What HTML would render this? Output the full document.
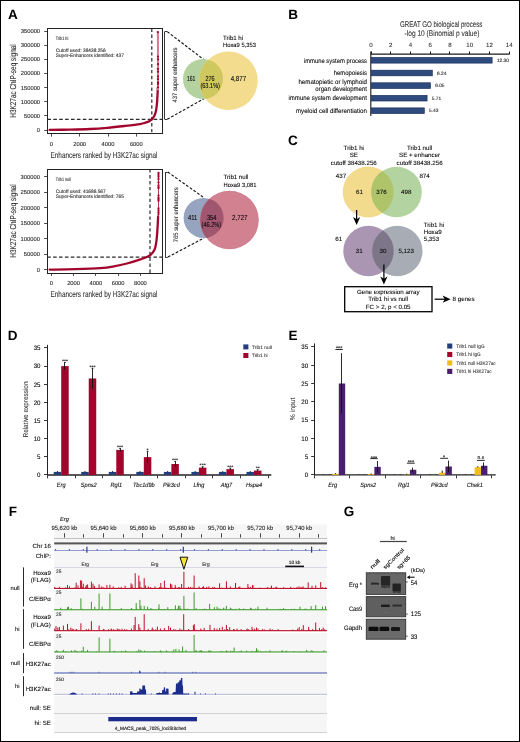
<!DOCTYPE html>
<html><head><meta charset="utf-8"><style>
html,body{margin:0;padding:0;background:#fff;}
body{width:520px;height:742px;overflow:hidden;}
svg{display:block;font-family:"Liberation Sans", sans-serif;opacity:0.999;text-rendering:geometricPrecision;}
</style></head><body>
<svg width="520" height="742" viewBox="0 0 520 742">
<rect x="0" y="0" width="520" height="742" fill="#fff"/>
<rect x="47.5" y="28.5" width="115.0" height="105.0" fill="none" stroke="#222" stroke-width="1.0"/>
<line x1="44.20" y1="130.50" x2="47.40" y2="130.50" stroke="#222" stroke-width="0.8"/>
<text x="40.10" y="132.00" font-size="5.8" text-anchor="end" fill="#1e1e1e" stroke="#1e1e1e" stroke-width="0.09">0</text>
<line x1="44.20" y1="115.50" x2="47.40" y2="115.50" stroke="#222" stroke-width="0.8"/>
<text x="40.10" y="117.86" font-size="5.8" text-anchor="end" fill="#1e1e1e" stroke="#1e1e1e" stroke-width="0.09">50000</text>
<line x1="44.20" y1="101.50" x2="47.40" y2="101.50" stroke="#222" stroke-width="0.8"/>
<text x="40.10" y="103.72" font-size="5.8" text-anchor="end" fill="#1e1e1e" stroke="#1e1e1e" stroke-width="0.09">100000</text>
<line x1="44.20" y1="87.50" x2="47.40" y2="87.50" stroke="#222" stroke-width="0.8"/>
<text x="40.10" y="89.58" font-size="5.8" text-anchor="end" fill="#1e1e1e" stroke="#1e1e1e" stroke-width="0.09">150000</text>
<line x1="44.20" y1="73.50" x2="47.40" y2="73.50" stroke="#222" stroke-width="0.8"/>
<text x="40.10" y="75.44" font-size="5.8" text-anchor="end" fill="#1e1e1e" stroke="#1e1e1e" stroke-width="0.09">200000</text>
<line x1="44.20" y1="59.50" x2="47.40" y2="59.50" stroke="#222" stroke-width="0.8"/>
<text x="40.10" y="61.30" font-size="5.8" text-anchor="end" fill="#1e1e1e" stroke="#1e1e1e" stroke-width="0.09">250000</text>
<line x1="44.20" y1="45.50" x2="47.40" y2="45.50" stroke="#222" stroke-width="0.8"/>
<text x="40.10" y="47.16" font-size="5.8" text-anchor="end" fill="#1e1e1e" stroke="#1e1e1e" stroke-width="0.09">300000</text>
<line x1="44.20" y1="31.50" x2="47.40" y2="31.50" stroke="#222" stroke-width="0.8"/>
<text x="40.10" y="33.02" font-size="5.8" text-anchor="end" fill="#1e1e1e" stroke="#1e1e1e" stroke-width="0.09">350000</text>
<line x1="51.50" y1="133.60" x2="51.50" y2="136.60" stroke="#222" stroke-width="0.8"/>
<text x="51.30" y="145.80" font-size="5.8" text-anchor="middle" fill="#1e1e1e" stroke="#1e1e1e" stroke-width="0.09">0</text>
<line x1="79.50" y1="133.60" x2="79.50" y2="136.60" stroke="#222" stroke-width="0.8"/>
<text x="79.65" y="145.80" font-size="5.8" text-anchor="middle" fill="#1e1e1e" stroke="#1e1e1e" stroke-width="0.09">2000</text>
<line x1="108.50" y1="133.60" x2="108.50" y2="136.60" stroke="#222" stroke-width="0.8"/>
<text x="108.00" y="145.80" font-size="5.8" text-anchor="middle" fill="#1e1e1e" stroke="#1e1e1e" stroke-width="0.09">4000</text>
<line x1="136.50" y1="133.60" x2="136.50" y2="136.60" stroke="#222" stroke-width="0.8"/>
<text x="136.35" y="145.80" font-size="5.8" text-anchor="middle" fill="#1e1e1e" stroke="#1e1e1e" stroke-width="0.09">6000</text>
<line x1="151.80" y1="28.60" x2="151.80" y2="133.60" stroke="#2a2a2a" stroke-width="1.2" stroke-dasharray="3.4 2.5"/>
<line x1="47.40" y1="119.30" x2="165.20" y2="119.30" stroke="#2a2a2a" stroke-width="1.2" stroke-dasharray="3.6 2.3"/>
<path d="M49.60 129.90 C53.00 129.85,63.27 129.75,70.00 129.60 C76.73 129.45,83.78 129.30,90.00 129.00 C96.22 128.70,101.53 128.30,107.30 127.80 C113.07 127.30,119.15 126.62,124.60 126.00 C130.05 125.38,136.53 124.65,140.00 124.10 C143.47 123.55,143.78 123.23,145.40 122.70 C147.02 122.17,148.53 121.57,149.70 120.90 C150.87 120.23,151.60 119.60,152.40 118.70 C153.20 117.80,153.92 116.75,154.50 115.50 C155.08 114.25,155.53 112.82,155.90 111.20 C156.27 109.58,156.48 107.60,156.70 105.80 C156.92 104.00,157.07 102.20,157.20 100.40 C157.33 98.60,157.40 97.07,157.50 95.00 C157.60 92.93,157.75 89.17,157.80 88.00" fill="none" stroke="#a3062c" stroke-width="2.3" stroke-linecap="round"/>
<path d="M157.90 32.10 L158.00 90.30" stroke="#d47a90" stroke-width="2.0"/>
<circle cx="157.90" cy="32.10" r="1.15" fill="#a3062c"/>
<circle cx="158.00" cy="56.60" r="1.15" fill="#a3062c"/>
<circle cx="158.00" cy="59.40" r="1.15" fill="#a3062c"/>
<circle cx="158.00" cy="64.20" r="1.15" fill="#a3062c"/>
<circle cx="158.00" cy="68.90" r="1.15" fill="#a3062c"/>
<circle cx="158.00" cy="71.70" r="1.15" fill="#a3062c"/>
<circle cx="158.00" cy="76.40" r="1.15" fill="#a3062c"/>
<circle cx="158.00" cy="79.20" r="1.15" fill="#a3062c"/>
<circle cx="158.00" cy="82.50" r="1.15" fill="#a3062c"/>
<circle cx="158.00" cy="84.00" r="1.15" fill="#a3062c"/>
<circle cx="158.00" cy="87.30" r="1.15" fill="#a3062c"/>
<text x="55.80" y="39.50" font-size="4.9" fill="#333" stroke="#333" stroke-width="0.12" textLength="12.5" lengthAdjust="spacingAndGlyphs">Trib1 hi</text>
<text x="55.80" y="51.50" font-size="4.9" fill="#333" stroke="#333" stroke-width="0.12" textLength="49.9" lengthAdjust="spacingAndGlyphs">Cutoff used: 38438.256</text>
<text x="55.80" y="56.60" font-size="4.9" fill="#333" stroke="#333" stroke-width="0.12" textLength="68" lengthAdjust="spacingAndGlyphs">Super-Enhancers identified: 437</text>
<rect x="47.5" y="169.5" width="115.0" height="104.0" fill="none" stroke="#222" stroke-width="1.0"/>
<line x1="44.00" y1="269.50" x2="47.20" y2="269.50" stroke="#222" stroke-width="0.8"/>
<text x="39.90" y="271.60" font-size="5.8" text-anchor="end" fill="#1e1e1e" stroke="#1e1e1e" stroke-width="0.09">0</text>
<line x1="44.00" y1="254.50" x2="47.20" y2="254.50" stroke="#222" stroke-width="0.8"/>
<text x="39.90" y="256.10" font-size="5.8" text-anchor="end" fill="#1e1e1e" stroke="#1e1e1e" stroke-width="0.09">50000</text>
<line x1="44.00" y1="238.50" x2="47.20" y2="238.50" stroke="#222" stroke-width="0.8"/>
<text x="39.90" y="240.60" font-size="5.8" text-anchor="end" fill="#1e1e1e" stroke="#1e1e1e" stroke-width="0.09">100000</text>
<line x1="44.00" y1="223.50" x2="47.20" y2="223.50" stroke="#222" stroke-width="0.8"/>
<text x="39.90" y="225.10" font-size="5.8" text-anchor="end" fill="#1e1e1e" stroke="#1e1e1e" stroke-width="0.09">150000</text>
<line x1="44.00" y1="207.50" x2="47.20" y2="207.50" stroke="#222" stroke-width="0.8"/>
<text x="39.90" y="209.60" font-size="5.8" text-anchor="end" fill="#1e1e1e" stroke="#1e1e1e" stroke-width="0.09">200000</text>
<line x1="44.00" y1="192.50" x2="47.20" y2="192.50" stroke="#222" stroke-width="0.8"/>
<text x="39.90" y="194.10" font-size="5.8" text-anchor="end" fill="#1e1e1e" stroke="#1e1e1e" stroke-width="0.09">250000</text>
<line x1="44.00" y1="176.50" x2="47.20" y2="176.50" stroke="#222" stroke-width="0.8"/>
<text x="39.90" y="178.60" font-size="5.8" text-anchor="end" fill="#1e1e1e" stroke="#1e1e1e" stroke-width="0.09">300000</text>
<line x1="51.50" y1="273.00" x2="51.50" y2="276.00" stroke="#222" stroke-width="0.8"/>
<text x="51.30" y="285.20" font-size="5.8" text-anchor="middle" fill="#1e1e1e" stroke="#1e1e1e" stroke-width="0.09">0</text>
<line x1="73.50" y1="273.00" x2="73.50" y2="276.00" stroke="#222" stroke-width="0.8"/>
<text x="73.58" y="285.20" font-size="5.8" text-anchor="middle" fill="#1e1e1e" stroke="#1e1e1e" stroke-width="0.09">2000</text>
<line x1="95.50" y1="273.00" x2="95.50" y2="276.00" stroke="#222" stroke-width="0.8"/>
<text x="95.86" y="285.20" font-size="5.8" text-anchor="middle" fill="#1e1e1e" stroke="#1e1e1e" stroke-width="0.09">4000</text>
<line x1="118.50" y1="273.00" x2="118.50" y2="276.00" stroke="#222" stroke-width="0.8"/>
<text x="118.14" y="285.20" font-size="5.8" text-anchor="middle" fill="#1e1e1e" stroke="#1e1e1e" stroke-width="0.09">6000</text>
<line x1="140.50" y1="273.00" x2="140.50" y2="276.00" stroke="#222" stroke-width="0.8"/>
<text x="140.42" y="285.20" font-size="5.8" text-anchor="middle" fill="#1e1e1e" stroke="#1e1e1e" stroke-width="0.09">8000</text>
<line x1="150.00" y1="169.20" x2="150.00" y2="273.00" stroke="#2a2a2a" stroke-width="1.2" stroke-dasharray="3.4 2.5"/>
<line x1="47.20" y1="257.10" x2="165.80" y2="257.10" stroke="#2a2a2a" stroke-width="1.2" stroke-dasharray="3.6 2.3"/>
<path d="M49.60 269.60 C53.83 269.53,66.60 269.43,75.00 269.20 C83.40 268.97,93.33 268.70,100.00 268.20 C106.67 267.70,110.52 266.98,115.00 266.20 C119.48 265.42,122.67 264.63,126.90 263.50 C131.13 262.37,136.58 260.75,140.40 259.40 C144.22 258.05,147.45 257.00,149.80 255.40 C152.15 253.80,153.38 252.30,154.50 249.80 C155.62 247.30,155.98 244.22,156.50 240.40 C157.02 236.58,157.33 230.88,157.60 226.90 C157.87 222.92,158.02 218.23,158.10 216.50" fill="none" stroke="#a3062c" stroke-width="2.3" stroke-linecap="round"/>
<path d="M158.50 173.00 L158.50 217.10" stroke="#b02040" stroke-width="0.9"/>
<circle cx="158.50" cy="173.00" r="1.15" fill="#a3062c"/>
<circle cx="158.50" cy="174.90" r="1.15" fill="#a3062c"/>
<circle cx="158.50" cy="176.80" r="1.15" fill="#a3062c"/>
<circle cx="158.50" cy="179.20" r="1.15" fill="#a3062c"/>
<circle cx="158.50" cy="182.50" r="1.15" fill="#a3062c"/>
<circle cx="158.50" cy="185.30" r="1.15" fill="#a3062c"/>
<circle cx="158.50" cy="187.20" r="1.15" fill="#a3062c"/>
<circle cx="158.50" cy="188.10" r="1.15" fill="#a3062c"/>
<circle cx="158.50" cy="195.70" r="1.15" fill="#a3062c"/>
<circle cx="158.50" cy="198.00" r="1.15" fill="#a3062c"/>
<circle cx="158.50" cy="199.40" r="1.15" fill="#a3062c"/>
<circle cx="158.50" cy="200.80" r="1.15" fill="#a3062c"/>
<circle cx="158.50" cy="208.40" r="1.15" fill="#a3062c"/>
<circle cx="158.50" cy="210.30" r="1.15" fill="#a3062c"/>
<circle cx="158.50" cy="212.20" r="1.15" fill="#a3062c"/>
<circle cx="158.50" cy="214.10" r="1.15" fill="#a3062c"/>
<text x="55.80" y="181.30" font-size="4.9" fill="#333" stroke="#333" stroke-width="0.12" textLength="15.0" lengthAdjust="spacingAndGlyphs">Trib1 null</text>
<text x="55.80" y="193.10" font-size="4.9" fill="#333" stroke="#333" stroke-width="0.12" textLength="49.9" lengthAdjust="spacingAndGlyphs">Cutoff used: 41686.567</text>
<text x="55.80" y="198.30" font-size="4.9" fill="#333" stroke="#333" stroke-width="0.12" textLength="68" lengthAdjust="spacingAndGlyphs">Super-Enhancers identified: 765</text>
<line x1="164.50" y1="31.60" x2="164.50" y2="119.30" stroke="#222" stroke-width="0.9"/>
<line x1="164.70" y1="31.50" x2="167.20" y2="31.50" stroke="#222" stroke-width="0.9"/>
<line x1="164.70" y1="119.50" x2="167.20" y2="119.50" stroke="#222" stroke-width="0.9"/>
<line x1="167.20" y1="31.60" x2="204.60" y2="60.20" stroke="#111" stroke-width="1.1" stroke-dasharray="2.8 1.7"/>
<line x1="167.20" y1="119.30" x2="204.60" y2="98.30" stroke="#111" stroke-width="1.1" stroke-dasharray="2.8 1.7"/>
<line x1="165.50" y1="172.00" x2="165.50" y2="257.10" stroke="#222" stroke-width="0.9"/>
<line x1="165.30" y1="172.50" x2="167.80" y2="172.50" stroke="#222" stroke-width="0.9"/>
<line x1="165.30" y1="257.50" x2="167.80" y2="257.50" stroke="#222" stroke-width="0.9"/>
<line x1="167.80" y1="172.00" x2="204.20" y2="197.90" stroke="#111" stroke-width="1.1" stroke-dasharray="2.8 1.7"/>
<line x1="167.80" y1="257.10" x2="204.20" y2="237.90" stroke="#111" stroke-width="1.1" stroke-dasharray="2.8 1.7"/>
<text x="15.90" y="81.00" font-size="8.6" text-anchor="middle" fill="#2a2a2a" stroke="#2a2a2a" stroke-width="0.09" textLength="73.5" lengthAdjust="spacingAndGlyphs" transform="rotate(-90 15.90 81.00)">H3K27ac ChIP-seq signal</text>
<text x="15.90" y="221.00" font-size="8.6" text-anchor="middle" fill="#2a2a2a" stroke="#2a2a2a" stroke-width="0.09" textLength="73.5" lengthAdjust="spacingAndGlyphs" transform="rotate(-90 15.90 221.00)">H3K27ac ChIP-seq signal</text>
<text x="104.00" y="157.50" font-size="8.5" text-anchor="middle" fill="#333" stroke="#333" stroke-width="0.09" textLength="107" lengthAdjust="spacingAndGlyphs">Enhancers ranked by H3K27ac signal</text>
<text x="104.00" y="297.30" font-size="8.5" text-anchor="middle" fill="#333" stroke="#333" stroke-width="0.09" textLength="107" lengthAdjust="spacingAndGlyphs">Enhancers ranked by H3K27ac signal</text>
<text x="177.20" y="75.00" font-size="6.4" text-anchor="middle" fill="#333" stroke="#333" stroke-width="0.09" textLength="55" lengthAdjust="spacingAndGlyphs" transform="rotate(-90 177.20 75.00)">437 super enhancers</text>
<text x="177.70" y="214.70" font-size="6.4" text-anchor="middle" fill="#333" stroke="#333" stroke-width="0.09" textLength="55" lengthAdjust="spacingAndGlyphs" transform="rotate(-90 177.70 214.70)">765 super enhancers</text>
<circle cx="203.00" cy="79.00" r="20.00" fill="#b4d29f"/>
<circle cx="228.50" cy="80.80" r="29.30" fill="#f3dc8e"/>
<clipPath id="cA1"><circle cx="203" cy="79" r="20"/></clipPath>
<circle cx="228.50" cy="80.80" r="29.30" fill="#cec85f" clip-path="url(#cA1)"/>
<text x="191.20" y="81.20" font-size="7.3" text-anchor="middle" stroke="#222" stroke-width="0.09" textLength="8.5" lengthAdjust="spacingAndGlyphs">161</text>
<text x="210.00" y="81.20" font-size="7.3" text-anchor="middle" stroke="#222" stroke-width="0.09" textLength="9.2" lengthAdjust="spacingAndGlyphs">276</text>
<text x="210.20" y="88.30" font-size="7.3" text-anchor="middle" stroke="#222" stroke-width="0.09" textLength="19.6" lengthAdjust="spacingAndGlyphs">(63.1%)</text>
<text x="238.40" y="81.20" font-size="7.3" text-anchor="middle" stroke="#222" stroke-width="0.09" textLength="15.5" lengthAdjust="spacingAndGlyphs">4,877</text>
<text x="223.00" y="39.50" font-size="6.1" stroke="#222" stroke-width="0.09">Trib1 hi</text>
<text x="223.00" y="46.60" font-size="6.1" stroke="#222" stroke-width="0.09" textLength="33.0" lengthAdjust="spacingAndGlyphs">Hoxa9 5,353</text>
<circle cx="203.60" cy="217.90" r="20.00" fill="#96a4c0"/>
<circle cx="229.50" cy="220.00" r="29.30" fill="#d28191"/>
<clipPath id="cA2"><circle cx="203.6" cy="217.9" r="20"/></clipPath>
<circle cx="229.50" cy="220.00" r="29.30" fill="#a0566f" clip-path="url(#cA2)"/>
<text x="192.60" y="219.80" font-size="7.3" text-anchor="middle" stroke="#222" stroke-width="0.09" textLength="9.3" lengthAdjust="spacingAndGlyphs">411</text>
<text x="211.70" y="219.80" font-size="7.3" text-anchor="middle" stroke="#222" stroke-width="0.09" textLength="9.6" lengthAdjust="spacingAndGlyphs">354</text>
<text x="211.40" y="227.40" font-size="7.3" text-anchor="middle" stroke="#222" stroke-width="0.09" textLength="19.7" lengthAdjust="spacingAndGlyphs">(46.2%)</text>
<text x="239.80" y="219.80" font-size="7.3" text-anchor="middle" stroke="#222" stroke-width="0.09" textLength="15.5" lengthAdjust="spacingAndGlyphs">2,727</text>
<text x="223.50" y="179.40" font-size="6.1" stroke="#222" stroke-width="0.09">Trib1 null</text>
<text x="223.50" y="186.50" font-size="6.1" stroke="#222" stroke-width="0.09" textLength="33.0" lengthAdjust="spacingAndGlyphs">Hoxa9 3,081</text>
<text x="7.90" y="18.70" font-size="13.5" fill="#000" font-weight="bold">A</text>
<text x="288.30" y="18.70" font-size="13.5" fill="#000" font-weight="bold">B</text>
<text x="441.20" y="26.60" font-size="8.2" text-anchor="middle" fill="#333" stroke="#333" stroke-width="0.09" textLength="82.5" lengthAdjust="spacingAndGlyphs">GREAT GO biological process</text>
<text x="442.00" y="35.80" font-size="8.2" text-anchor="middle" fill="#333" stroke="#333" stroke-width="0.09" textLength="74.8" lengthAdjust="spacingAndGlyphs">-log 10 (Binomial p value)</text>
<line x1="370.70" y1="54.20" x2="509.58" y2="54.20" stroke="#1a1a1a" stroke-width="1.3"/>
<line x1="371.50" y1="51.50" x2="371.50" y2="54.20" stroke="#1a1a1a" stroke-width="1.0"/>
<text x="371.00" y="46.70" font-size="6.1" text-anchor="middle" fill="#333" stroke="#333" stroke-width="0.09">0</text>
<line x1="390.50" y1="51.50" x2="390.50" y2="54.20" stroke="#1a1a1a" stroke-width="1.0"/>
<text x="390.74" y="46.70" font-size="6.1" text-anchor="middle" fill="#333" stroke="#333" stroke-width="0.09">2</text>
<line x1="410.50" y1="51.50" x2="410.50" y2="54.20" stroke="#1a1a1a" stroke-width="1.0"/>
<text x="410.48" y="46.70" font-size="6.1" text-anchor="middle" fill="#333" stroke="#333" stroke-width="0.09">4</text>
<line x1="430.50" y1="51.50" x2="430.50" y2="54.20" stroke="#1a1a1a" stroke-width="1.0"/>
<text x="430.22" y="46.70" font-size="6.1" text-anchor="middle" fill="#333" stroke="#333" stroke-width="0.09">6</text>
<line x1="449.50" y1="51.50" x2="449.50" y2="54.20" stroke="#1a1a1a" stroke-width="1.0"/>
<text x="449.96" y="46.70" font-size="6.1" text-anchor="middle" fill="#333" stroke="#333" stroke-width="0.09">8</text>
<line x1="469.50" y1="51.50" x2="469.50" y2="54.20" stroke="#1a1a1a" stroke-width="1.0"/>
<text x="469.70" y="46.70" font-size="6.1" text-anchor="middle" fill="#333" stroke="#333" stroke-width="0.09">10</text>
<line x1="489.50" y1="51.50" x2="489.50" y2="54.20" stroke="#1a1a1a" stroke-width="1.0"/>
<text x="489.44" y="46.70" font-size="6.1" text-anchor="middle" fill="#333" stroke="#333" stroke-width="0.09">12</text>
<line x1="509.50" y1="51.50" x2="509.50" y2="54.20" stroke="#1a1a1a" stroke-width="1.0"/>
<text x="509.18" y="46.70" font-size="6.1" text-anchor="middle" fill="#333" stroke="#333" stroke-width="0.09">14</text>
<line x1="370.80" y1="51.50" x2="370.80" y2="116.00" stroke="#2a2a2a" stroke-width="1.2"/>
<rect x="371.30" y="57.50" width="120.80" height="5.6" fill="#2f4b7d" stroke="#1b305f" stroke-width="0.7"/>
<text x="496.90" y="62.00" font-size="4.8" fill="#333" stroke="#333" stroke-width="0.12">12.30</text>
<rect x="371.30" y="70.20" width="60.99" height="5.6" fill="#2f4b7d" stroke="#1b305f" stroke-width="0.7"/>
<text x="437.09" y="74.70" font-size="4.8" fill="#333" stroke="#333" stroke-width="0.12">6.24</text>
<rect x="371.30" y="82.80" width="59.11" height="5.6" fill="#2f4b7d" stroke="#1b305f" stroke-width="0.7"/>
<text x="435.21" y="87.30" font-size="4.8" fill="#333" stroke="#333" stroke-width="0.12">6.05</text>
<rect x="371.30" y="95.40" width="55.76" height="5.6" fill="#2f4b7d" stroke="#1b305f" stroke-width="0.7"/>
<text x="431.86" y="99.90" font-size="4.8" fill="#333" stroke="#333" stroke-width="0.12">5.71</text>
<rect x="371.30" y="107.90" width="52.99" height="5.6" fill="#2f4b7d" stroke="#1b305f" stroke-width="0.7"/>
<text x="429.09" y="112.40" font-size="4.8" fill="#333" stroke="#333" stroke-width="0.12">5.43</text>
<text x="367.00" y="62.50" font-size="6.6" text-anchor="end" stroke="#222" stroke-width="0.09" textLength="63.1" lengthAdjust="spacingAndGlyphs">immune system process</text>
<text x="367.00" y="74.90" font-size="6.6" text-anchor="end" stroke="#222" stroke-width="0.09" textLength="33.2" lengthAdjust="spacingAndGlyphs">hemopoiesis</text>
<text x="367.00" y="83.70" font-size="6.6" text-anchor="end" stroke="#222" stroke-width="0.09" textLength="68.6" lengthAdjust="spacingAndGlyphs">hematopietic or lymphoid</text>
<text x="367.00" y="90.80" font-size="6.6" text-anchor="end" stroke="#222" stroke-width="0.09" textLength="51.7" lengthAdjust="spacingAndGlyphs">organ development</text>
<text x="367.00" y="100.30" font-size="6.6" text-anchor="end" stroke="#222" stroke-width="0.09" textLength="78.5" lengthAdjust="spacingAndGlyphs">immune system development</text>
<text x="367.00" y="112.60" font-size="6.6" text-anchor="end" stroke="#222" stroke-width="0.09" textLength="71.1" lengthAdjust="spacingAndGlyphs">myeloid cell differentiation</text>
<text x="288.00" y="144.80" font-size="13.5" fill="#000" font-weight="bold">C</text>
<circle cx="368.20" cy="192.00" r="25.50" fill="#f3db8e"/>
<circle cx="396.50" cy="192.00" r="25.30" fill="#b3d3a0"/>
<clipPath id="cC1"><circle cx="368.2" cy="192" r="25.5"/></clipPath>
<circle cx="396.50" cy="192.00" r="25.30" fill="#afc469" clip-path="url(#cC1)"/>
<circle cx="368.50" cy="251.00" r="25.20" fill="#aa95b2"/>
<circle cx="397.30" cy="251.00" r="25.20" fill="#a7acb5"/>
<clipPath id="cC2"><circle cx="368.5" cy="251" r="25.2"/></clipPath>
<circle cx="397.30" cy="251.00" r="25.20" fill="#7d7689" clip-path="url(#cC2)"/>
<text x="353.80" y="149.80" font-size="6.2" text-anchor="middle" stroke="#222" stroke-width="0.09">Trib1 hi</text>
<text x="353.80" y="157.10" font-size="6.2" text-anchor="middle" stroke="#222" stroke-width="0.09">SE</text>
<text x="353.80" y="164.50" font-size="6.2" text-anchor="middle" stroke="#222" stroke-width="0.09">cutoff 38438.256</text>
<text x="419.60" y="149.80" font-size="6.2" text-anchor="middle" stroke="#222" stroke-width="0.09">Trib1 null</text>
<text x="419.60" y="157.10" font-size="6.2" text-anchor="middle" stroke="#222" stroke-width="0.09">SE + enhancer</text>
<text x="419.60" y="164.50" font-size="6.2" text-anchor="middle" stroke="#222" stroke-width="0.09">cutoff 38438.256</text>
<text x="341.00" y="178.10" font-size="6.2" text-anchor="middle" stroke="#222" stroke-width="0.09">437</text>
<text x="424.60" y="178.10" font-size="6.2" text-anchor="middle" stroke="#222" stroke-width="0.09">874</text>
<text x="359.40" y="194.40" font-size="6.2" text-anchor="middle" stroke="#222" stroke-width="0.09">61</text>
<text x="381.50" y="194.40" font-size="6.2" text-anchor="middle" stroke="#222" stroke-width="0.09">376</text>
<text x="406.20" y="194.40" font-size="6.2" text-anchor="middle" stroke="#222" stroke-width="0.09">498</text>
<text x="338.80" y="241.40" font-size="6.2" text-anchor="middle" stroke="#222" stroke-width="0.09">61</text>
<text x="359.30" y="252.50" font-size="6.2" text-anchor="middle" stroke="#222" stroke-width="0.09">31</text>
<text x="383.00" y="252.50" font-size="6.2" text-anchor="middle" stroke="#222" stroke-width="0.09">30</text>
<text x="406.20" y="252.50" font-size="6.2" text-anchor="middle" stroke="#222" stroke-width="0.09">5,123</text>
<text x="423.70" y="226.60" font-size="6.2" stroke="#222" stroke-width="0.09">Trib1 hi</text>
<text x="423.70" y="234.10" font-size="6.2" stroke="#222" stroke-width="0.09">Hoxa9</text>
<text x="423.70" y="241.20" font-size="6.2" stroke="#222" stroke-width="0.09">5,353</text>
<line x1="356.60" y1="210.00" x2="356.60" y2="221.00" stroke="#000" stroke-width="1.25"/>
<path d="M353.00 217.00 L356.60 225.00 L360.20 217.00 L356.60 219.20 Z" fill="#000"/>
<line x1="383.90" y1="264.60" x2="383.90" y2="280.60" stroke="#000" stroke-width="1.25"/>
<path d="M380.30 276.60 L383.90 284.60 L387.50 276.60 L383.90 278.80 Z" fill="#000"/>
<rect x="344.7" y="286.7" width="87.3" height="25" fill="#fff" stroke="#000" stroke-width="1.3"/>
<text x="388.20" y="293.80" font-size="6.2" text-anchor="middle" stroke="#222" stroke-width="0.09">Gene expression array</text>
<text x="388.20" y="301.40" font-size="6.2" text-anchor="middle" stroke="#222" stroke-width="0.09">Trib1 hi vs null</text>
<text x="388.20" y="308.80" font-size="6.2" text-anchor="middle" stroke="#222" stroke-width="0.09">FC &gt; 2, p &lt; 0.05</text>
<line x1="434.60" y1="299.20" x2="446.00" y2="299.20" stroke="#000" stroke-width="1.25"/>
<path d="M442.6 295.6 L450.6 299.2 L442.6 302.8 L444.8 299.2 Z" fill="#000"/>
<text x="452.60" y="301.30" font-size="6.2" stroke="#222" stroke-width="0.09">8 genes</text>
<text x="7.70" y="339.60" font-size="13.5" fill="#000" font-weight="bold">D</text>
<line x1="47.50" y1="344.80" x2="47.50" y2="475.50" stroke="#222" stroke-width="1.0"/>
<line x1="47.20" y1="475.00" x2="271.30" y2="475.00" stroke="#222" stroke-width="1.3"/>
<line x1="44.00" y1="474.50" x2="47.20" y2="474.50" stroke="#222" stroke-width="0.9"/>
<text x="40.50" y="477.20" font-size="6.5" text-anchor="end" stroke="#222" stroke-width="0.09" textLength="3.43" lengthAdjust="spacingAndGlyphs">0</text>
<line x1="44.00" y1="456.50" x2="47.20" y2="456.50" stroke="#222" stroke-width="0.9"/>
<text x="40.50" y="459.07" font-size="6.5" text-anchor="end" stroke="#222" stroke-width="0.09" textLength="3.43" lengthAdjust="spacingAndGlyphs">5</text>
<line x1="44.00" y1="438.50" x2="47.20" y2="438.50" stroke="#222" stroke-width="0.9"/>
<text x="40.50" y="440.94" font-size="6.5" text-anchor="end" stroke="#222" stroke-width="0.09" textLength="6.87" lengthAdjust="spacingAndGlyphs">10</text>
<line x1="44.00" y1="420.50" x2="47.20" y2="420.50" stroke="#222" stroke-width="0.9"/>
<text x="40.50" y="422.81" font-size="6.5" text-anchor="end" stroke="#222" stroke-width="0.09" textLength="6.87" lengthAdjust="spacingAndGlyphs">15</text>
<line x1="44.00" y1="402.50" x2="47.20" y2="402.50" stroke="#222" stroke-width="0.9"/>
<text x="40.50" y="404.68" font-size="6.5" text-anchor="end" stroke="#222" stroke-width="0.09" textLength="6.87" lengthAdjust="spacingAndGlyphs">20</text>
<line x1="44.00" y1="384.50" x2="47.20" y2="384.50" stroke="#222" stroke-width="0.9"/>
<text x="40.50" y="386.55" font-size="6.5" text-anchor="end" stroke="#222" stroke-width="0.09" textLength="6.87" lengthAdjust="spacingAndGlyphs">25</text>
<line x1="44.00" y1="366.50" x2="47.20" y2="366.50" stroke="#222" stroke-width="0.9"/>
<text x="40.50" y="368.42" font-size="6.5" text-anchor="end" stroke="#222" stroke-width="0.09" textLength="6.87" lengthAdjust="spacingAndGlyphs">30</text>
<line x1="44.00" y1="347.50" x2="47.20" y2="347.50" stroke="#222" stroke-width="0.9"/>
<text x="40.50" y="350.29" font-size="6.5" text-anchor="end" stroke="#222" stroke-width="0.09" textLength="6.87" lengthAdjust="spacingAndGlyphs">35</text>
<line x1="47.50" y1="475.50" x2="47.50" y2="478.30" stroke="#222" stroke-width="0.9"/>
<rect x="53.70" y="471.90" width="7.50" height="3.00" fill="#223f80"/>
<line x1="57.45" y1="471.10" x2="57.45" y2="472.30" stroke="#111" stroke-width="0.9"/>
<rect x="61.20" y="366.12" width="7.50" height="108.78" fill="#a3042b"/>
<line x1="64.50" y1="362.49" x2="64.50" y2="369.75" stroke="#111" stroke-width="0.9"/>
<line x1="64.00" y1="362.49" x2="65.90" y2="362.49" stroke="#111" stroke-width="0.8"/>
<text x="64.95" y="362.89" font-size="5.2" text-anchor="middle" stroke="#222" stroke-width="0.12">***</text>
<text x="61.20" y="486.80" font-size="6.2" text-anchor="middle" stroke="#222" stroke-width="0.09" textLength="8.68" lengthAdjust="spacingAndGlyphs" font-style="italic">Erg</text>
<line x1="75.50" y1="475.50" x2="75.50" y2="478.30" stroke="#222" stroke-width="0.9"/>
<rect x="81.24" y="471.90" width="7.50" height="3.00" fill="#223f80"/>
<line x1="84.99" y1="471.10" x2="84.99" y2="472.30" stroke="#111" stroke-width="0.9"/>
<rect x="88.74" y="378.45" width="7.50" height="96.45" fill="#a3042b"/>
<line x1="92.50" y1="368.30" x2="92.50" y2="388.60" stroke="#111" stroke-width="0.9"/>
<line x1="91.54" y1="368.30" x2="93.44" y2="368.30" stroke="#111" stroke-width="0.8"/>
<text x="92.49" y="368.70" font-size="5.2" text-anchor="middle" stroke="#222" stroke-width="0.12">***</text>
<text x="88.74" y="486.80" font-size="6.2" text-anchor="middle" stroke="#222" stroke-width="0.09" textLength="15.82" lengthAdjust="spacingAndGlyphs" font-style="italic">Spns2</text>
<line x1="102.50" y1="475.50" x2="102.50" y2="478.30" stroke="#222" stroke-width="0.9"/>
<rect x="108.78" y="471.90" width="7.50" height="3.00" fill="#223f80"/>
<line x1="112.53" y1="471.10" x2="112.53" y2="472.30" stroke="#111" stroke-width="0.9"/>
<rect x="116.28" y="449.88" width="7.50" height="25.02" fill="#a3042b"/>
<line x1="120.50" y1="448.43" x2="120.50" y2="451.33" stroke="#111" stroke-width="0.9"/>
<line x1="119.08" y1="448.43" x2="120.98" y2="448.43" stroke="#111" stroke-width="0.8"/>
<text x="120.03" y="448.83" font-size="5.2" text-anchor="middle" stroke="#222" stroke-width="0.12">***</text>
<text x="116.28" y="486.80" font-size="6.2" text-anchor="middle" stroke="#222" stroke-width="0.09" textLength="11.48" lengthAdjust="spacingAndGlyphs" font-style="italic">Rgl1</text>
<line x1="130.50" y1="475.50" x2="130.50" y2="478.30" stroke="#222" stroke-width="0.9"/>
<rect x="136.32" y="471.90" width="7.50" height="3.00" fill="#223f80"/>
<line x1="140.07" y1="471.10" x2="140.07" y2="472.30" stroke="#111" stroke-width="0.9"/>
<rect x="143.82" y="457.13" width="7.50" height="17.77" fill="#a3042b"/>
<line x1="147.50" y1="451.33" x2="147.50" y2="462.93" stroke="#111" stroke-width="0.9"/>
<line x1="146.62" y1="451.33" x2="148.52" y2="451.33" stroke="#111" stroke-width="0.8"/>
<text x="147.57" y="451.73" font-size="5.2" text-anchor="middle" stroke="#222" stroke-width="0.12">*</text>
<text x="143.82" y="486.80" font-size="6.2" text-anchor="middle" stroke="#222" stroke-width="0.09" textLength="21.72" lengthAdjust="spacingAndGlyphs" font-style="italic">Tbc1d9b</text>
<line x1="157.50" y1="475.50" x2="157.50" y2="478.30" stroke="#222" stroke-width="0.9"/>
<rect x="163.86" y="471.90" width="7.50" height="3.00" fill="#223f80"/>
<line x1="167.61" y1="471.10" x2="167.61" y2="472.30" stroke="#111" stroke-width="0.9"/>
<rect x="171.36" y="464.02" width="7.50" height="10.88" fill="#a3042b"/>
<line x1="175.50" y1="461.48" x2="175.50" y2="466.56" stroke="#111" stroke-width="0.9"/>
<line x1="174.16" y1="461.48" x2="176.06" y2="461.48" stroke="#111" stroke-width="0.8"/>
<text x="175.11" y="461.88" font-size="5.2" text-anchor="middle" stroke="#222" stroke-width="0.12">***</text>
<text x="171.36" y="486.80" font-size="6.2" text-anchor="middle" stroke="#222" stroke-width="0.09" textLength="16.75" lengthAdjust="spacingAndGlyphs" font-style="italic">Pik3cd</text>
<line x1="185.50" y1="475.50" x2="185.50" y2="478.30" stroke="#222" stroke-width="0.9"/>
<rect x="191.40" y="471.90" width="7.50" height="3.00" fill="#223f80"/>
<line x1="195.15" y1="471.10" x2="195.15" y2="472.30" stroke="#111" stroke-width="0.9"/>
<rect x="198.90" y="467.65" width="7.50" height="7.25" fill="#a3042b"/>
<line x1="202.50" y1="466.74" x2="202.50" y2="468.55" stroke="#111" stroke-width="0.9"/>
<line x1="201.70" y1="466.74" x2="203.60" y2="466.74" stroke="#111" stroke-width="0.8"/>
<text x="202.65" y="467.14" font-size="5.2" text-anchor="middle" stroke="#222" stroke-width="0.12">***</text>
<text x="198.90" y="486.80" font-size="6.2" text-anchor="middle" stroke="#222" stroke-width="0.09" textLength="10.86" lengthAdjust="spacingAndGlyphs" font-style="italic">Lfng</text>
<line x1="212.50" y1="475.50" x2="212.50" y2="478.30" stroke="#222" stroke-width="0.9"/>
<rect x="218.94" y="471.90" width="7.50" height="3.00" fill="#223f80"/>
<line x1="222.69" y1="471.10" x2="222.69" y2="472.30" stroke="#111" stroke-width="0.9"/>
<rect x="226.44" y="469.10" width="7.50" height="5.80" fill="#a3042b"/>
<line x1="230.50" y1="468.19" x2="230.50" y2="470.00" stroke="#111" stroke-width="0.9"/>
<line x1="229.24" y1="468.19" x2="231.14" y2="468.19" stroke="#111" stroke-width="0.8"/>
<text x="230.19" y="468.59" font-size="5.2" text-anchor="middle" stroke="#222" stroke-width="0.12">***</text>
<text x="226.44" y="486.80" font-size="6.2" text-anchor="middle" stroke="#222" stroke-width="0.09" textLength="11.48" lengthAdjust="spacingAndGlyphs" font-style="italic">Atg7</text>
<line x1="240.50" y1="475.50" x2="240.50" y2="478.30" stroke="#222" stroke-width="0.9"/>
<rect x="246.48" y="471.90" width="7.50" height="3.00" fill="#223f80"/>
<line x1="250.23" y1="471.10" x2="250.23" y2="472.30" stroke="#111" stroke-width="0.9"/>
<rect x="253.98" y="470.55" width="7.50" height="4.35" fill="#a3042b"/>
<line x1="257.50" y1="469.64" x2="257.50" y2="471.46" stroke="#111" stroke-width="0.9"/>
<line x1="256.78" y1="469.64" x2="258.68" y2="469.64" stroke="#111" stroke-width="0.8"/>
<text x="257.73" y="470.04" font-size="5.2" text-anchor="middle" stroke="#222" stroke-width="0.12">**</text>
<text x="253.98" y="486.80" font-size="6.2" text-anchor="middle" stroke="#222" stroke-width="0.09" textLength="16.13" lengthAdjust="spacingAndGlyphs" font-style="italic">Hspa4</text>
<line x1="268.50" y1="475.50" x2="268.50" y2="478.30" stroke="#222" stroke-width="0.9"/>
<text x="28.30" y="409.50" font-size="7.0" text-anchor="middle" fill="#333" stroke="#333" stroke-width="0.09" textLength="56" lengthAdjust="spacingAndGlyphs" transform="rotate(-90 28.30 409.50)">Relative expression</text>
<rect x="243.30" y="344.40" width="5.10" height="5.00" fill="#223f80"/>
<rect x="243.30" y="353.00" width="5.10" height="5.00" fill="#a3042b"/>
<text x="252.00" y="348.70" font-size="4.6" fill="#444" stroke="#444" stroke-width="0.12" textLength="19.9" lengthAdjust="spacingAndGlyphs">Trib1 null</text>
<text x="252.00" y="357.30" font-size="4.6" fill="#444" stroke="#444" stroke-width="0.12" textLength="15.6" lengthAdjust="spacingAndGlyphs">Trib1 hi</text>
<text x="288.60" y="339.60" font-size="13.5" fill="#000" font-weight="bold">E</text>
<line x1="314.50" y1="343.40" x2="314.50" y2="475.30" stroke="#222" stroke-width="1.0"/>
<line x1="314.20" y1="474.90" x2="495.70" y2="474.90" stroke="#222" stroke-width="1.3"/>
<line x1="311.10" y1="474.50" x2="314.20" y2="474.50" stroke="#222" stroke-width="0.9"/>
<text x="308.20" y="477.20" font-size="6.5" text-anchor="end" stroke="#222" stroke-width="0.09" textLength="3.43" lengthAdjust="spacingAndGlyphs">0</text>
<line x1="311.10" y1="456.50" x2="314.20" y2="456.50" stroke="#222" stroke-width="0.9"/>
<text x="308.20" y="458.92" font-size="6.5" text-anchor="end" stroke="#222" stroke-width="0.09" textLength="3.43" lengthAdjust="spacingAndGlyphs">5</text>
<line x1="311.10" y1="438.50" x2="314.20" y2="438.50" stroke="#222" stroke-width="0.9"/>
<text x="308.20" y="440.64" font-size="6.5" text-anchor="end" stroke="#222" stroke-width="0.09" textLength="6.87" lengthAdjust="spacingAndGlyphs">10</text>
<line x1="311.10" y1="420.50" x2="314.20" y2="420.50" stroke="#222" stroke-width="0.9"/>
<text x="308.20" y="422.36" font-size="6.5" text-anchor="end" stroke="#222" stroke-width="0.09" textLength="6.87" lengthAdjust="spacingAndGlyphs">15</text>
<line x1="311.10" y1="401.50" x2="314.20" y2="401.50" stroke="#222" stroke-width="0.9"/>
<text x="308.20" y="404.08" font-size="6.5" text-anchor="end" stroke="#222" stroke-width="0.09" textLength="6.87" lengthAdjust="spacingAndGlyphs">20</text>
<line x1="311.10" y1="383.50" x2="314.20" y2="383.50" stroke="#222" stroke-width="0.9"/>
<text x="308.20" y="385.80" font-size="6.5" text-anchor="end" stroke="#222" stroke-width="0.09" textLength="6.87" lengthAdjust="spacingAndGlyphs">25</text>
<line x1="311.10" y1="365.50" x2="314.20" y2="365.50" stroke="#222" stroke-width="0.9"/>
<text x="308.20" y="367.52" font-size="6.5" text-anchor="end" stroke="#222" stroke-width="0.09" textLength="6.87" lengthAdjust="spacingAndGlyphs">30</text>
<line x1="311.10" y1="346.50" x2="314.20" y2="346.50" stroke="#222" stroke-width="0.9"/>
<text x="308.20" y="349.24" font-size="6.5" text-anchor="end" stroke="#222" stroke-width="0.09" textLength="6.87" lengthAdjust="spacingAndGlyphs">35</text>
<line x1="349.50" y1="475.30" x2="349.50" y2="478.30" stroke="#222" stroke-width="0.9"/>
<rect x="322.80" y="473.90" width="0.80" height="1.00" fill="#333"/>
<rect x="328.80" y="473.90" width="0.80" height="1.00" fill="#333"/>
<rect x="332.40" y="473.80" width="6.40" height="1.10" fill="#f2bf1c"/>
<rect x="338.80" y="383.50" width="6.40" height="91.40" fill="#4b1e6e"/>
<line x1="341.50" y1="353.16" x2="341.50" y2="413.84" stroke="#111" stroke-width="0.9"/>
<line x1="335.60" y1="473.00" x2="335.60" y2="474.10" stroke="#111" stroke-width="0.9"/>
<line x1="335.40" y1="349.50" x2="342.80" y2="349.50" stroke="#111" stroke-width="0.9"/>
<text x="339.10" y="350.40" font-size="5.4" text-anchor="middle" stroke="#222" stroke-width="0.12">***</text>
<text x="332.70" y="487.00" font-size="6.2" text-anchor="middle" stroke="#222" stroke-width="0.09" textLength="8.68" lengthAdjust="spacingAndGlyphs" font-style="italic">Erg</text>
<line x1="385.50" y1="475.30" x2="385.50" y2="478.30" stroke="#222" stroke-width="0.9"/>
<rect x="358.35" y="473.90" width="0.80" height="1.00" fill="#333"/>
<rect x="364.35" y="473.90" width="0.80" height="1.00" fill="#333"/>
<rect x="367.95" y="474.17" width="6.40" height="0.73" fill="#f2bf1c"/>
<rect x="374.35" y="466.86" width="6.40" height="8.04" fill="#4b1e6e"/>
<line x1="377.50" y1="461.01" x2="377.50" y2="472.71" stroke="#111" stroke-width="0.9"/>
<line x1="371.15" y1="473.37" x2="371.15" y2="474.47" stroke="#111" stroke-width="0.9"/>
<line x1="370.30" y1="458.60" x2="377.70" y2="458.60" stroke="#111" stroke-width="0.9"/>
<text x="374.00" y="459.50" font-size="5.4" text-anchor="middle" stroke="#222" stroke-width="0.12">***</text>
<text x="368.25" y="487.00" font-size="6.2" text-anchor="middle" stroke="#222" stroke-width="0.09" textLength="15.82" lengthAdjust="spacingAndGlyphs" font-style="italic">Spns2</text>
<line x1="420.50" y1="475.30" x2="420.50" y2="478.30" stroke="#222" stroke-width="0.9"/>
<rect x="393.90" y="473.90" width="0.80" height="1.00" fill="#333"/>
<rect x="399.90" y="473.90" width="0.80" height="1.00" fill="#333"/>
<rect x="403.50" y="474.53" width="6.40" height="0.37" fill="#f2bf1c"/>
<rect x="409.90" y="469.78" width="6.40" height="5.12" fill="#4b1e6e"/>
<line x1="412.50" y1="467.59" x2="412.50" y2="471.98" stroke="#111" stroke-width="0.9"/>
<line x1="406.70" y1="473.73" x2="406.70" y2="474.83" stroke="#111" stroke-width="0.9"/>
<line x1="406.90" y1="463.20" x2="414.80" y2="463.20" stroke="#111" stroke-width="0.9"/>
<text x="410.85" y="464.10" font-size="5.4" text-anchor="middle" stroke="#222" stroke-width="0.12">***</text>
<text x="403.80" y="487.00" font-size="6.2" text-anchor="middle" stroke="#222" stroke-width="0.09" textLength="11.48" lengthAdjust="spacingAndGlyphs" font-style="italic">Rgl1</text>
<line x1="456.50" y1="475.30" x2="456.50" y2="478.30" stroke="#222" stroke-width="0.9"/>
<rect x="429.45" y="473.90" width="0.80" height="1.00" fill="#333"/>
<rect x="435.45" y="473.90" width="0.80" height="1.00" fill="#333"/>
<rect x="439.05" y="472.71" width="6.40" height="2.19" fill="#f2bf1c"/>
<rect x="445.45" y="466.49" width="6.40" height="8.41" fill="#4b1e6e"/>
<line x1="448.50" y1="460.64" x2="448.50" y2="472.34" stroke="#111" stroke-width="0.9"/>
<line x1="442.25" y1="470.51" x2="442.25" y2="473.01" stroke="#111" stroke-width="0.9"/>
<line x1="440.20" y1="458.30" x2="448.10" y2="458.30" stroke="#111" stroke-width="0.9"/>
<text x="444.15" y="459.20" font-size="5.4" text-anchor="middle" stroke="#222" stroke-width="0.12">*</text>
<text x="439.35" y="487.00" font-size="6.2" text-anchor="middle" stroke="#222" stroke-width="0.09" textLength="16.75" lengthAdjust="spacingAndGlyphs" font-style="italic">Pik3cd</text>
<line x1="491.50" y1="475.30" x2="491.50" y2="478.30" stroke="#222" stroke-width="0.9"/>
<rect x="465.00" y="473.90" width="0.80" height="1.00" fill="#333"/>
<rect x="471.00" y="473.90" width="0.80" height="1.00" fill="#333"/>
<rect x="474.60" y="467.22" width="6.40" height="7.68" fill="#f2bf1c"/>
<rect x="481.00" y="465.76" width="6.40" height="9.14" fill="#4b1e6e"/>
<line x1="483.50" y1="462.47" x2="483.50" y2="469.05" stroke="#111" stroke-width="0.9"/>
<line x1="477.80" y1="466.13" x2="477.80" y2="467.52" stroke="#111" stroke-width="0.9"/>
<line x1="477.00" y1="460.40" x2="484.80" y2="460.40" stroke="#111" stroke-width="0.9"/>
<text x="480.90" y="459.10" font-size="5.0" text-anchor="middle" stroke="#222" stroke-width="0.12">n.s</text>
<text x="474.90" y="487.00" font-size="6.2" text-anchor="middle" stroke="#222" stroke-width="0.09" textLength="16.13" lengthAdjust="spacingAndGlyphs" font-style="italic">Chek1</text>
<line x1="314.50" y1="475.30" x2="314.50" y2="478.30" stroke="#222" stroke-width="0.9"/>
<text x="295.10" y="408.90" font-size="7.0" text-anchor="middle" fill="#333" stroke="#333" stroke-width="0.09" textLength="22.7" lengthAdjust="spacingAndGlyphs" transform="rotate(-90 295.10 408.90)">% input</text>
<rect x="447.20" y="343.50" width="5.10" height="5.10" fill="#223f80"/>
<text x="456.20" y="347.70" font-size="5.0" fill="#444" stroke="#444" stroke-width="0.12" textLength="28.4" lengthAdjust="spacingAndGlyphs">Trib1 null IgG</text>
<rect x="447.20" y="351.95" width="5.10" height="5.10" fill="#a3042b"/>
<text x="456.20" y="356.15" font-size="5.0" fill="#444" stroke="#444" stroke-width="0.12" textLength="24.6" lengthAdjust="spacingAndGlyphs">Trib1 hi IgG</text>
<rect x="447.20" y="360.40" width="5.10" height="5.10" fill="#f2bd1a"/>
<text x="456.20" y="364.60" font-size="5.0" fill="#444" stroke="#444" stroke-width="0.12" textLength="39.5" lengthAdjust="spacingAndGlyphs">Trib1 null H3K27ac</text>
<rect x="447.20" y="368.85" width="5.10" height="5.10" fill="#4a1d6e"/>
<text x="456.20" y="373.05" font-size="5.0" fill="#444" stroke="#444" stroke-width="0.12" textLength="35.4" lengthAdjust="spacingAndGlyphs">Trib1 hi H3K27ac</text>
<text x="8.80" y="515.90" font-size="13.5" fill="#000" font-weight="bold">F</text>
<rect x="54.20" y="524.40" width="272.80" height="208.20" fill="#f6f6f6"/>
<text x="64.40" y="521.00" font-size="5.6" text-anchor="middle" stroke="#222" stroke-width="0.09" font-style="italic">Erg</text>
<line x1="54.20" y1="538.50" x2="327.00" y2="538.50" stroke="#bbb" stroke-width="0.9"/>
<line x1="64.50" y1="533.20" x2="64.50" y2="537.60" stroke="#333" stroke-width="0.9"/>
<text x="64.40" y="529.90" font-size="6.2" text-anchor="middle" fill="#1e1e1e" stroke="#1e1e1e" stroke-width="0.09" textLength="26.0" lengthAdjust="spacingAndGlyphs">95,620 kb</text>
<line x1="83.50" y1="534.20" x2="83.50" y2="537.60" stroke="#333" stroke-width="0.9"/>
<line x1="103.50" y1="533.20" x2="103.50" y2="537.60" stroke="#333" stroke-width="0.9"/>
<text x="103.56" y="529.90" font-size="6.2" text-anchor="middle" fill="#1e1e1e" stroke="#1e1e1e" stroke-width="0.09" textLength="26.0" lengthAdjust="spacingAndGlyphs">95,640 kb</text>
<line x1="123.50" y1="534.20" x2="123.50" y2="537.60" stroke="#333" stroke-width="0.9"/>
<line x1="142.50" y1="533.20" x2="142.50" y2="537.60" stroke="#333" stroke-width="0.9"/>
<text x="142.72" y="529.90" font-size="6.2" text-anchor="middle" fill="#1e1e1e" stroke="#1e1e1e" stroke-width="0.09" textLength="26.0" lengthAdjust="spacingAndGlyphs">95,660 kb</text>
<line x1="162.50" y1="534.20" x2="162.50" y2="537.60" stroke="#333" stroke-width="0.9"/>
<line x1="181.50" y1="533.20" x2="181.50" y2="537.60" stroke="#333" stroke-width="0.9"/>
<text x="181.88" y="529.90" font-size="6.2" text-anchor="middle" fill="#1e1e1e" stroke="#1e1e1e" stroke-width="0.09" textLength="26.0" lengthAdjust="spacingAndGlyphs">95,680 kb</text>
<line x1="201.50" y1="534.20" x2="201.50" y2="537.60" stroke="#333" stroke-width="0.9"/>
<line x1="221.50" y1="533.20" x2="221.50" y2="537.60" stroke="#333" stroke-width="0.9"/>
<text x="221.04" y="529.90" font-size="6.2" text-anchor="middle" fill="#1e1e1e" stroke="#1e1e1e" stroke-width="0.09" textLength="26.0" lengthAdjust="spacingAndGlyphs">95,700 kb</text>
<line x1="240.50" y1="534.20" x2="240.50" y2="537.60" stroke="#333" stroke-width="0.9"/>
<line x1="260.50" y1="533.20" x2="260.50" y2="537.60" stroke="#333" stroke-width="0.9"/>
<text x="260.20" y="529.90" font-size="6.2" text-anchor="middle" fill="#1e1e1e" stroke="#1e1e1e" stroke-width="0.09" textLength="26.0" lengthAdjust="spacingAndGlyphs">95,720 kb</text>
<line x1="279.50" y1="534.20" x2="279.50" y2="537.60" stroke="#333" stroke-width="0.9"/>
<line x1="299.50" y1="533.20" x2="299.50" y2="537.60" stroke="#333" stroke-width="0.9"/>
<text x="299.36" y="529.90" font-size="6.2" text-anchor="middle" fill="#1e1e1e" stroke="#1e1e1e" stroke-width="0.09" textLength="26.0" lengthAdjust="spacingAndGlyphs">95,740 kb</text>
<line x1="318.50" y1="534.20" x2="318.50" y2="537.60" stroke="#333" stroke-width="0.9"/>
<rect x="54.20" y="542.40" width="272.80" height="2.00" fill="#555"/>
<line x1="54.20" y1="550.50" x2="327.00" y2="550.50" stroke="#6a78c0" stroke-width="0.7"/>
<rect x="54.90" y="549.20" width="1.20" height="1.20" fill="#3a4aa0"/>
<rect x="68.80" y="549.20" width="1.20" height="1.20" fill="#3a4aa0"/>
<rect x="82.70" y="549.20" width="1.20" height="1.20" fill="#3a4aa0"/>
<rect x="96.60" y="549.20" width="1.20" height="1.20" fill="#3a4aa0"/>
<rect x="110.50" y="549.20" width="1.20" height="1.20" fill="#3a4aa0"/>
<rect x="124.40" y="549.20" width="1.20" height="1.20" fill="#3a4aa0"/>
<rect x="138.30" y="549.20" width="1.20" height="1.20" fill="#3a4aa0"/>
<rect x="152.20" y="549.20" width="1.20" height="1.20" fill="#3a4aa0"/>
<rect x="166.10" y="549.20" width="1.20" height="1.20" fill="#3a4aa0"/>
<rect x="180.00" y="549.20" width="1.20" height="1.20" fill="#3a4aa0"/>
<rect x="193.90" y="549.20" width="1.20" height="1.20" fill="#3a4aa0"/>
<rect x="207.80" y="549.20" width="1.20" height="1.20" fill="#3a4aa0"/>
<rect x="221.70" y="549.20" width="1.20" height="1.20" fill="#3a4aa0"/>
<rect x="235.60" y="549.20" width="1.20" height="1.20" fill="#3a4aa0"/>
<rect x="249.50" y="549.20" width="1.20" height="1.20" fill="#3a4aa0"/>
<rect x="263.40" y="549.20" width="1.20" height="1.20" fill="#3a4aa0"/>
<rect x="277.30" y="549.20" width="1.20" height="1.20" fill="#3a4aa0"/>
<rect x="291.20" y="549.20" width="1.20" height="1.20" fill="#3a4aa0"/>
<rect x="305.10" y="549.20" width="1.20" height="1.20" fill="#3a4aa0"/>
<rect x="319.00" y="549.20" width="1.20" height="1.20" fill="#3a4aa0"/>
<rect x="86.30" y="546.70" width="1.20" height="6.00" fill="#2a3a9a"/>
<rect x="182.70" y="546.70" width="1.20" height="6.00" fill="#2a3a9a"/>
<rect x="311.00" y="546.70" width="1.20" height="6.00" fill="#2a3a9a"/>
<text x="50.90" y="547.90" font-size="6.1" text-anchor="end" stroke="#222" stroke-width="0.09">Chr 16</text>
<text x="50.90" y="557.70" font-size="6.1" text-anchor="end" stroke="#222" stroke-width="0.09">ChIP:</text>
<text x="85.20" y="566.40" font-size="5.0" text-anchor="middle" fill="#333" stroke="#333" stroke-width="0.12" textLength="7.39" lengthAdjust="spacingAndGlyphs">Erg</text>
<text x="154.70" y="566.40" font-size="5.0" text-anchor="middle" fill="#333" stroke="#333" stroke-width="0.12" textLength="7.39" lengthAdjust="spacingAndGlyphs">Erg</text>
<text x="205.90" y="566.40" font-size="5.0" text-anchor="middle" fill="#333" stroke="#333" stroke-width="0.12" textLength="7.39" lengthAdjust="spacingAndGlyphs">Erg</text>
<line x1="54.20" y1="567.50" x2="327.00" y2="567.50" stroke="#ccd" stroke-width="0.7"/>
<path d="M180.0 557.2 L187.8 557.2 L183.9 569.2 Z" fill="#f5e33a" stroke="#111" stroke-width="1"/>
<rect x="285.20" y="565.60" width="18.80" height="1.60" fill="#111"/>
<text x="294.60" y="564.40" font-size="4.8" text-anchor="middle" stroke="#222" stroke-width="0.12">10 kb</text>
<line x1="54.20" y1="589.50" x2="327.00" y2="589.50" stroke="#ffffff" stroke-width="1.0"/>
<line x1="54.20" y1="610.50" x2="327.00" y2="610.50" stroke="#ffffff" stroke-width="1.0"/>
<line x1="54.20" y1="632.50" x2="327.00" y2="632.50" stroke="#ffffff" stroke-width="1.0"/>
<line x1="54.20" y1="653.50" x2="327.00" y2="653.50" stroke="#ffffff" stroke-width="1.0"/>
<line x1="54.20" y1="674.50" x2="327.00" y2="674.50" stroke="#ffffff" stroke-width="1.0"/>
<line x1="54.20" y1="695.50" x2="327.00" y2="695.50" stroke="#ffffff" stroke-width="1.0"/>
<path d="M54.7 588.40v-1.5M61.7 588.40v-0.4M65.7 588.40v-1.0M70.7 588.40v-0.4M74.7 588.40v-0.9M75.7 588.40v-0.7M80.7 588.40v-1.0M82.7 588.40v-1.5M85.7 588.40v-1.7M87.7 588.40v-0.8M100.7 588.40v-0.7M103.7 588.40v-1.1M113.7 588.40v-0.5M118.7 588.40v-1.1M131.7 588.40v-1.4M139.7 588.40v-1.5M141.7 588.40v-1.1M149.7 588.40v-0.7M150.7 588.40v-1.2M158.7 588.40v-0.4M159.7 588.40v-1.4M161.7 588.40v-1.2M163.7 588.40v-0.6M165.7 588.40v-0.8M170.7 588.40v-0.9M172.7 588.40v-0.5M175.7 588.40v-1.2M177.7 588.40v-0.4M178.7 588.40v-1.3M179.7 588.40v-1.3M192.7 588.40v-0.8M202.7 588.40v-1.5M203.7 588.40v-1.5M206.7 588.40v-1.5M212.7 588.40v-1.3M214.7 588.40v-0.5M221.7 588.40v-0.7M226.7 588.40v-1.3M236.7 588.40v-0.6M238.7 588.40v-1.4M248.7 588.40v-1.1M249.7 588.40v-0.5M250.7 588.40v-1.5M259.7 588.40v-0.7M267.7 588.40v-1.3M268.7 588.40v-0.5M270.7 588.40v-0.7M273.7 588.40v-0.6M276.7 588.40v-1.6M283.7 588.40v-1.2M284.7 588.40v-0.4M290.7 588.40v-1.6M293.7 588.40v-0.7M303.7 588.40v-0.8M321.7 588.40v-0.7M322.7 588.40v-1.1M323.7 588.40v-0.5M59.4 588.40v-1.6M67.5 588.40v-3.4M69.5 588.40v-2.0M76.2 588.40v-5.7M78.0 588.40v-3.0M80.6 588.40v-8.1M81.6 588.40v-7.7M83.3 588.40v-4.7M86.3 588.40v-3.4M87.6 588.40v-4.0M91.4 588.40v-6.7M93.0 588.40v-4.7M94.4 588.40v-2.5M99.1 588.40v-4.0M101.8 588.40v-2.0M106.9 588.40v-3.4M109.9 588.40v-3.6M113.2 588.40v-2.0M121.3 588.40v-1.5M125.1 588.40v-2.7M131.0 588.40v-5.1M132.1 588.40v-4.0M135.2 588.40v-15.2M138.8 588.40v-12.9M139.9 588.40v-7.0M144.2 588.40v-10.2M145.6 588.40v-3.0M148.3 588.40v-2.0M155.0 588.40v-2.0M160.8 588.40v-5.4M164.4 588.40v-7.8M170.5 588.40v-4.8M171.8 588.40v-4.0M175.2 588.40v-3.5M181.6 588.40v-4.4M183.9 588.40v-16.6M188.6 588.40v-1.5M190.7 588.40v-1.5M194.1 588.40v-12.9M199.1 588.40v-2.0M203.5 588.40v-2.0M208.9 588.40v-2.0M214.3 588.40v-1.5M219.6 588.40v-5.1M226.4 588.40v-7.1M230.4 588.40v-2.0M235.5 588.40v-5.4M239.8 588.40v-2.0M247.9 588.40v-4.4M252.9 588.40v-3.5M252.7 588.40v-3.0M271.5 588.40v-2.7M276.0 588.40v-1.5M297.0 588.40v-1.5M299.0 588.40v-2.0M301.0 588.40v-1.5M303.0 588.40v-2.0M308.2 588.40v-6.0M312.0 588.40v-2.5M315.7 588.40v-3.0M320.7 588.40v-6.3M325.5 588.40v-1.0" stroke="#c0102a" stroke-width="1.0" fill="none"/>
<rect x="54.2" y="587.90" width="272.8" height="1.1" fill="#c0102a"/>
<path d="M56.7 609.70v-0.5M73.7 609.70v-0.4M81.7 609.70v-0.7M82.7 609.70v-0.9M131.7 609.70v-1.2M136.7 609.70v-1.1M140.7 609.70v-0.9M147.7 609.70v-0.8M150.7 609.70v-1.4M151.7 609.70v-1.1M152.7 609.70v-0.7M158.7 609.70v-1.4M160.7 609.70v-0.7M163.7 609.70v-0.7M164.7 609.70v-0.8M175.7 609.70v-0.8M177.7 609.70v-1.0M180.7 609.70v-1.4M184.7 609.70v-1.0M185.7 609.70v-0.5M186.7 609.70v-0.6M187.7 609.70v-1.0M202.7 609.70v-0.4M204.7 609.70v-1.1M206.7 609.70v-0.6M220.7 609.70v-0.8M223.7 609.70v-1.2M231.7 609.70v-1.1M232.7 609.70v-0.7M235.7 609.70v-0.9M240.7 609.70v-0.7M243.7 609.70v-1.2M250.7 609.70v-0.5M251.7 609.70v-1.3M255.7 609.70v-1.1M278.7 609.70v-0.8M280.7 609.70v-0.8M281.7 609.70v-0.5M285.7 609.70v-0.7M291.7 609.70v-0.9M294.7 609.70v-0.9M304.7 609.70v-0.8M305.7 609.70v-1.0M60.7 609.70v-2.0M67.5 609.70v-2.5M68.5 609.70v-3.0M71.2 609.70v-1.5M80.9 609.70v-11.3M91.4 609.70v-7.9M94.8 609.70v-3.0M99.1 609.70v-16.2M102.2 609.70v-3.0M109.9 609.70v-16.2M121.3 609.70v-1.5M131.4 609.70v-1.5M136.2 609.70v-6.7M139.9 609.70v-9.8M140.9 609.70v-4.0M144.2 609.70v-3.8M147.6 609.70v-3.0M159.0 609.70v-5.4M167.8 609.70v-2.5M175.4 609.70v-4.4M178.5 609.70v-4.0M179.9 609.70v-4.0M183.9 609.70v-13.9M194.1 609.70v-17.2M196.1 609.70v-1.5M209.6 609.70v-5.8M214.3 609.70v-2.5M217.0 609.70v-3.0M219.0 609.70v-1.5M223.7 609.70v-2.0M226.4 609.70v-3.8M230.4 609.70v-2.0M239.2 609.70v-1.5M250.6 609.70v-2.0M258.0 609.70v-3.0M267.0 609.70v-2.0M283.5 609.70v-1.5M300.0 609.70v-3.0M311.2 609.70v-3.5M315.7 609.70v-4.5M322.5 609.70v-3.0M325.5 609.70v-3.5" stroke="#3d9a2c" stroke-width="1.0" fill="none"/>
<rect x="54.2" y="609.20" width="272.8" height="1.1" fill="#3d9a2c"/>
<path d="M59.7 630.60v-0.4M68.7 630.60v-1.2M73.7 630.60v-1.4M76.7 630.60v-1.5M87.7 630.60v-0.6M88.7 630.60v-1.7M103.7 630.60v-1.5M108.7 630.60v-1.5M111.7 630.60v-1.5M113.7 630.60v-1.4M115.7 630.60v-0.8M118.7 630.60v-1.2M119.7 630.60v-1.3M126.7 630.60v-1.2M127.7 630.60v-0.7M130.7 630.60v-0.5M151.7 630.60v-0.9M153.7 630.60v-1.2M155.7 630.60v-1.2M161.7 630.60v-0.5M175.7 630.60v-1.1M181.7 630.60v-1.0M183.7 630.60v-0.8M188.7 630.60v-0.8M193.7 630.60v-1.1M194.7 630.60v-1.4M196.7 630.60v-0.8M201.7 630.60v-0.8M209.7 630.60v-0.4M224.7 630.60v-1.2M227.7 630.60v-1.6M233.7 630.60v-1.4M234.7 630.60v-0.8M246.7 630.60v-1.1M248.7 630.60v-1.4M252.7 630.60v-1.2M254.7 630.60v-0.8M260.7 630.60v-0.5M261.7 630.60v-0.6M262.7 630.60v-1.7M264.7 630.60v-1.1M271.7 630.60v-0.8M272.7 630.60v-1.1M275.7 630.60v-0.6M292.7 630.60v-1.0M301.7 630.60v-1.5M308.7 630.60v-1.2M309.7 630.60v-0.6M311.7 630.60v-0.5M312.7 630.60v-1.5M313.7 630.60v-0.4M315.7 630.60v-1.5M321.7 630.60v-1.4M324.7 630.60v-1.4M54.7 630.60v-2.0M56.0 630.60v-4.6M57.8 630.60v-3.0M59.4 630.60v-3.6M63.4 630.60v-5.0M67.5 630.60v-6.7M70.8 630.60v-3.0M72.2 630.60v-2.0M76.2 630.60v-1.5M80.9 630.60v-7.3M86.3 630.60v-1.5M91.4 630.60v-9.4M99.1 630.60v-5.0M103.8 630.60v-1.5M111.2 630.60v-2.0M117.3 630.60v-2.0M122.0 630.60v-2.0M124.7 630.60v-1.5M131.4 630.60v-2.0M134.1 630.60v-5.6M135.2 630.60v-13.7M138.8 630.60v-6.5M139.9 630.60v-3.0M144.2 630.60v-16.4M148.3 630.60v-1.5M152.3 630.60v-3.0M157.4 630.60v-4.0M160.4 630.60v-2.0M164.4 630.60v-2.5M168.7 630.60v-4.7M170.5 630.60v-3.0M173.8 630.60v-1.5M179.9 630.60v-2.0M183.7 630.60v-16.4M188.6 630.60v-1.5M193.4 630.60v-5.4M194.3 630.60v-6.5M200.8 630.60v-2.0M204.2 630.60v-2.7M210.0 630.60v-5.7M214.3 630.60v-2.5M217.0 630.60v-2.0M219.6 630.60v-2.5M222.3 630.60v-3.8M226.4 630.60v-5.7M229.7 630.60v-3.4M233.8 630.60v-1.5M237.1 630.60v-2.0M241.2 630.60v-1.5M247.2 630.60v-2.0M252.0 630.60v-3.8M254.6 630.60v-2.0M256.5 630.60v-3.0M258.0 630.60v-2.0M270.0 630.60v-2.0M278.2 630.60v-1.5M297.7 630.60v-2.0M299.2 630.60v-3.5M303.3 630.60v-5.5M308.7 630.60v-3.7M315.7 630.60v-8.0M319.5 630.60v-2.5M323.2 630.60v-3.0" stroke="#c0102a" stroke-width="1.0" fill="none"/>
<rect x="54.2" y="630.10" width="272.8" height="1.1" fill="#c0102a"/>
<path d="M55.7 651.90v-0.8M57.7 651.90v-0.8M65.7 651.90v-0.6M76.7 651.90v-1.0M81.7 651.90v-1.3M96.7 651.90v-0.4M113.7 651.90v-0.5M121.7 651.90v-1.1M126.7 651.90v-0.7M136.7 651.90v-0.8M139.7 651.90v-0.4M144.7 651.90v-1.4M147.7 651.90v-0.5M150.7 651.90v-0.4M154.7 651.90v-0.9M161.7 651.90v-0.8M166.7 651.90v-0.7M171.7 651.90v-0.5M181.7 651.90v-0.6M196.7 651.90v-1.4M199.7 651.90v-1.3M200.7 651.90v-1.4M202.7 651.90v-0.6M208.7 651.90v-1.3M209.7 651.90v-1.3M210.7 651.90v-1.2M222.7 651.90v-0.4M227.7 651.90v-0.8M230.7 651.90v-1.2M232.7 651.90v-0.9M239.7 651.90v-0.5M246.7 651.90v-1.3M255.7 651.90v-0.9M260.7 651.90v-0.7M265.7 651.90v-0.6M282.7 651.90v-1.2M285.7 651.90v-0.5M286.7 651.90v-1.2M293.7 651.90v-0.8M299.7 651.90v-0.4M312.7 651.90v-1.1M56.7 651.90v-1.5M63.4 651.90v-2.0M71.5 651.90v-1.5M74.9 651.90v-2.0M83.3 651.90v-5.1M87.6 651.90v-2.0M99.1 651.90v-14.5M109.9 651.90v-13.2M114.6 651.90v-1.0M125.4 651.90v-1.5M138.8 651.90v-2.5M140.9 651.90v-2.0M160.4 651.90v-1.5M166.4 651.90v-1.5M173.8 651.90v-2.5M175.9 651.90v-3.0M179.0 651.90v-2.5M182.6 651.90v-5.4M186.0 651.90v-2.0M194.1 651.90v-17.0M195.7 651.90v-1.5M201.5 651.90v-1.5M221.0 651.90v-1.0M226.4 651.90v-1.5M234.2 651.90v-4.4M241.2 651.90v-1.5M252.0 651.90v-1.0M256.5 651.90v-3.7M258.0 651.90v-2.0M270.0 651.90v-1.5M282.0 651.90v-1.5M306.7 651.90v-2.0M311.2 651.90v-1.5M324.0 651.90v-1.5" stroke="#3d9a2c" stroke-width="1.0" fill="none"/>
<rect x="54.2" y="651.40" width="272.8" height="1.1" fill="#3d9a2c"/>
<text x="56.00" y="572.90" font-size="5.0" fill="#333" stroke="#333" stroke-width="0.12" textLength="5.28" lengthAdjust="spacingAndGlyphs">25</text>
<text x="56.00" y="594.30" font-size="5.0" fill="#333" stroke="#333" stroke-width="0.12" textLength="5.28" lengthAdjust="spacingAndGlyphs">25</text>
<text x="56.00" y="616.30" font-size="5.0" fill="#333" stroke="#333" stroke-width="0.12" textLength="5.28" lengthAdjust="spacingAndGlyphs">25</text>
<text x="56.00" y="637.50" font-size="5.0" fill="#333" stroke="#333" stroke-width="0.12" textLength="5.28" lengthAdjust="spacingAndGlyphs">25</text>
<text x="56.00" y="659.40" font-size="4.8" fill="#333" stroke="#333" stroke-width="0.12">250</text>
<text x="56.00" y="680.80" font-size="4.8" fill="#333" stroke="#333" stroke-width="0.12">250</text>
<rect x="54.2" y="672.5" width="272.8" height="1.0" fill="#4050b0"/>
<path d="M139 672.9 L139.3 670.8 L140.3 670.8 L140.6 672.9 Z" fill="#1a2d8c"/>
<rect x="69.50" y="671.80" width="0.80" height="0.90" fill="#2a3a9a"/>
<rect x="71.50" y="671.80" width="0.80" height="0.90" fill="#2a3a9a"/>
<rect x="73.50" y="671.80" width="0.80" height="0.90" fill="#2a3a9a"/>
<rect x="98.60" y="671.80" width="0.80" height="0.90" fill="#2a3a9a"/>
<rect x="131.00" y="671.80" width="0.80" height="0.90" fill="#2a3a9a"/>
<rect x="158.50" y="671.80" width="0.80" height="0.90" fill="#2a3a9a"/>
<rect x="164.60" y="671.80" width="0.80" height="0.90" fill="#2a3a9a"/>
<rect x="192.30" y="671.80" width="0.80" height="0.90" fill="#2a3a9a"/>
<rect x="195.40" y="671.80" width="0.80" height="0.90" fill="#2a3a9a"/>
<rect x="54.2" y="693.9" width="272.8" height="0.6" fill="#8890c8"/>
<path d="M69 694.4L69 694.4L70.5 693.6L72 692.8L73 692.4L74.5 692.8L76 693.6L77.2 694.4L77.2 694.4Z" fill="#1a2d8c"/>
<path d="M130 694.4L130 694.4L130.2 691.5L131.5 691.5L131.7 693.1L137 693.1L137.2 691.4L139.2 691.4L139.4 688.4L140.4 688.4L140.6 689.5L142.2 689.5L142.4 685.6L145 685.6L145.2 689.4L146 689.4L146.2 694.4L146.2 694.4Z" fill="#1a2d8c"/>
<path d="M156.2 694.4L156.2 694.4L156.4 692.9L158.8 692.9L159 692.4L160 692.4L160.2 693.0L162 693.0L162.2 689.9L163.5 689.9L164 687.1999999999999L165 687.1999999999999L165.4 691.4L166 691.4L166.2 688.4L167.7 688.4L167.9 688.6999999999999L168.5 688.6999999999999L168.7 694.4L168.7 694.4Z" fill="#1a2d8c"/>
<path d="M172.3 694.4L172.3 694.4L172.5 692.9L174 691.9L175.6 691.9L176 683.4L177.7 683.4L177.9 682.1999999999999L179.2 682.1999999999999L179.4 680.1999999999999L180.8 680.1999999999999L181 677.9L182.3 677.9L182.5 685.6L183 685.6L183.2 693.4L187.7 693.4L187.9 694.4L187.9 694.4Z" fill="#1a2d8c"/>
<path d="M188.2 694.4L188.2 694.4L188.4 692.9L189 692.9L189.2 694.4L189.2 694.4Z" fill="#1a2d8c"/>
<path d="M194.4 694.4L194.4 694.4L194.6 691.8L195.4 691.8L195.6 694.4L195.6 694.4Z" fill="#1a2d8c"/>
<path d="M130.2 694.4L130.2 694.4L130.4 691.4L132.5 691.4L132.7 694.4L132.7 694.4Z" fill="#1a2d8c"/>
<rect x="81.70" y="693.40" width="0.80" height="1.00" fill="#1a2d8c"/>
<rect x="92.50" y="693.40" width="0.80" height="1.00" fill="#1a2d8c"/>
<rect x="95.00" y="693.40" width="0.80" height="1.00" fill="#1a2d8c"/>
<rect x="98.60" y="693.40" width="0.80" height="1.00" fill="#1a2d8c"/>
<rect x="107.80" y="693.40" width="0.80" height="1.00" fill="#1a2d8c"/>
<rect x="110.00" y="693.40" width="0.80" height="1.00" fill="#1a2d8c"/>
<rect x="113.00" y="693.40" width="0.80" height="1.00" fill="#1a2d8c"/>
<rect x="116.00" y="693.40" width="0.80" height="1.00" fill="#1a2d8c"/>
<rect x="119.00" y="693.40" width="0.80" height="1.00" fill="#1a2d8c"/>
<rect x="121.70" y="693.40" width="0.80" height="1.00" fill="#1a2d8c"/>
<rect x="150.80" y="693.40" width="0.80" height="1.00" fill="#1a2d8c"/>
<rect x="200.00" y="693.40" width="0.80" height="1.00" fill="#1a2d8c"/>
<rect x="205.00" y="693.40" width="0.80" height="1.00" fill="#1a2d8c"/>
<rect x="215.00" y="693.40" width="0.80" height="1.00" fill="#1a2d8c"/>
<line x1="54.20" y1="713.50" x2="327.00" y2="713.50" stroke="#c8c8c8" stroke-width="0.8"/>
<line x1="54.20" y1="732.50" x2="327.00" y2="732.50" stroke="#c8c8c8" stroke-width="0.8"/>
<rect x="108.30" y="717.00" width="88.70" height="4.30" fill="#1a2d8c"/>
<text x="150.50" y="730.20" font-size="4.8" text-anchor="middle" stroke="#222" stroke-width="0.12" textLength="71.5" lengthAdjust="spacingAndGlyphs">4_MACS_peak_7025_lociStitched</text>
<text x="50.80" y="575.40" font-size="6.1" text-anchor="end" stroke="#222" stroke-width="0.09">Hoxa9</text>
<text x="50.80" y="582.30" font-size="6.1" text-anchor="end" stroke="#222" stroke-width="0.09">(FLAG)</text>
<text x="50.80" y="601.00" font-size="6.1" text-anchor="end" stroke="#222" stroke-width="0.09">C/EBPα</text>
<text x="50.80" y="619.40" font-size="6.1" text-anchor="end" stroke="#222" stroke-width="0.09">Hoxa9</text>
<text x="50.80" y="626.70" font-size="6.1" text-anchor="end" stroke="#222" stroke-width="0.09">(FLAG)</text>
<text x="50.80" y="645.60" font-size="6.1" text-anchor="end" stroke="#222" stroke-width="0.09">C/EBPα</text>
<text x="50.80" y="665.60" font-size="6.1" text-anchor="end" stroke="#222" stroke-width="0.09">H3K27ac</text>
<text x="50.80" y="690.50" font-size="6.1" text-anchor="end" stroke="#222" stroke-width="0.09">H3K27ac</text>
<text x="50.80" y="709.90" font-size="6.1" text-anchor="end" stroke="#222" stroke-width="0.09">null: SE</text>
<text x="50.80" y="725.10" font-size="6.1" text-anchor="end" stroke="#222" stroke-width="0.09">hi: SE</text>
<text x="15.00" y="589.70" font-size="5.8" text-anchor="middle" stroke="#222" stroke-width="0.09">null</text>
<text x="17.30" y="630.80" font-size="5.8" text-anchor="middle" stroke="#222" stroke-width="0.09">hi</text>
<text x="15.30" y="665.00" font-size="5.8" text-anchor="middle" stroke="#222" stroke-width="0.09">null</text>
<text x="17.30" y="688.00" font-size="5.8" text-anchor="middle" stroke="#222" stroke-width="0.09">hi</text>
<line x1="23.50" y1="567.40" x2="23.50" y2="606.60" stroke="#111" stroke-width="0.9"/>
<line x1="23.50" y1="609.20" x2="23.50" y2="648.80" stroke="#111" stroke-width="0.9"/>
<line x1="23.50" y1="653.10" x2="23.50" y2="673.20" stroke="#111" stroke-width="0.9"/>
<line x1="23.50" y1="676.20" x2="23.50" y2="696.20" stroke="#111" stroke-width="0.9"/>
<text x="343.80" y="516.00" font-size="13.5" fill="#000" font-weight="bold">G</text>
<text x="392.60" y="539.60" font-size="5.6" text-anchor="middle" stroke="#222" stroke-width="0.09">hi</text>
<line x1="379.90" y1="541.50" x2="406.80" y2="541.50" stroke="#444" stroke-width="1.2"/>
<text x="372.30" y="569.30" font-size="5.4" stroke="#222" stroke-width="0.12" textLength="11.4" lengthAdjust="spacingAndGlyphs" transform="rotate(-45 372.30 569.30)">null</text>
<text x="385.30" y="569.50" font-size="5.4" stroke="#222" stroke-width="0.12" textLength="27" lengthAdjust="spacingAndGlyphs" transform="rotate(-45 385.30 569.50)">sgControl</text>
<text x="399.00" y="569.50" font-size="5.4" stroke="#222" stroke-width="0.12" textLength="16.5" lengthAdjust="spacingAndGlyphs" transform="rotate(-45 399.00 569.50)">sg+85</text>
<text x="410.80" y="572.00" font-size="5.6" stroke="#222" stroke-width="0.09" textLength="14.2" lengthAdjust="spacingAndGlyphs">(kDa)</text>
<defs><filter id="blur1" x="-20%" y="-20%" width="140%" height="140%"><feGaussianBlur stdDeviation="0.55"/></filter></defs>
<rect x="366.3" y="572.8" width="39.4" height="21.60" fill="#676767" stroke="#333" stroke-width="0.9"/>
<rect x="366.3" y="596.6" width="39.4" height="20.20" fill="#5f5f5f" stroke="#333" stroke-width="0.9"/>
<rect x="366.3" y="619.2" width="39.4" height="20.00" fill="#6a6a6a" stroke="#333" stroke-width="0.9"/>
<g filter="url(#blur1)">
<path d="M371 582.8 Q375 582.3 379 582.9 L379 584.8 Q375 584.3 371 584.8 Z" fill="#2a2a2a"/>
<rect x="381.0" y="576.0" width="9.2" height="9.5" rx="0.8" fill="#262626"/>
<path d="M381.3 585 L390 585 L389.6 588.2 L387 587.2 L385.5 588.6 L383 587.6 L381.6 588.4 Z" fill="#3a3a3a"/>
<rect x="392.5" y="583.4" width="8.4" height="8.0" rx="0.6" fill="#222"/>
<path d="M392.7 591 L400.8 591 L400.6 593.4 L396 592.6 L393 593.2 Z" fill="#3c3c3c"/>
<rect x="381.0" y="604.6" width="8.8" height="2.4" fill="#1e1e1e"/>
<rect x="382.5" y="612.0" width="6.5" height="1.2" fill="#666"/>
<rect x="392.5" y="604.6" width="9.2" height="1.9" fill="#2a2a2a"/>
<rect x="368.5" y="626.8" width="10.1" height="4.3" rx="1.2" fill="#111"/>
<rect x="379.5" y="626.8" width="9.7" height="4.3" rx="1.2" fill="#111"/>
<rect x="391.1" y="627.0" width="8.8" height="4.1" rx="1.2" fill="#131313"/>
</g>
<text x="362.00" y="587.10" font-size="6.4" text-anchor="end" stroke="#222" stroke-width="0.09" textLength="12.9" lengthAdjust="spacingAndGlyphs">Erg *</text>
<text x="362.20" y="610.60" font-size="6.4" text-anchor="end" stroke="#222" stroke-width="0.09" textLength="13.2" lengthAdjust="spacingAndGlyphs">Cas9</text>
<text x="362.00" y="629.60" font-size="6.4" text-anchor="end" stroke="#222" stroke-width="0.09" textLength="18.0" lengthAdjust="spacingAndGlyphs">Gapdh</text>
<line x1="405.90" y1="582.00" x2="407.80" y2="582.00" stroke="#222" stroke-width="0.7"/>
<text x="410.80" y="584.70" font-size="6.4" stroke="#222" stroke-width="0.09" textLength="6.5" lengthAdjust="spacingAndGlyphs">54</text>
<line x1="405.90" y1="614.10" x2="407.80" y2="614.10" stroke="#222" stroke-width="0.7"/>
<text x="410.80" y="615.70" font-size="6.4" stroke="#222" stroke-width="0.09" textLength="10.2" lengthAdjust="spacingAndGlyphs">125</text>
<line x1="405.90" y1="636.20" x2="407.80" y2="636.20" stroke="#222" stroke-width="0.7"/>
<text x="410.80" y="638.90" font-size="6.4" stroke="#222" stroke-width="0.09" textLength="6.5" lengthAdjust="spacingAndGlyphs">33</text>
<line x1="409.00" y1="577.20" x2="414.60" y2="577.20" stroke="#000" stroke-width="1.0"/>
<path d="M406.7 577.2 L410.2 575.2 L409.5 577.2 L410.2 579.2 Z" fill="#000"/>
<rect x="0.5" y="0.5" width="519" height="741" fill="none" stroke="#000" stroke-width="1"/>
</svg>
</body></html>
